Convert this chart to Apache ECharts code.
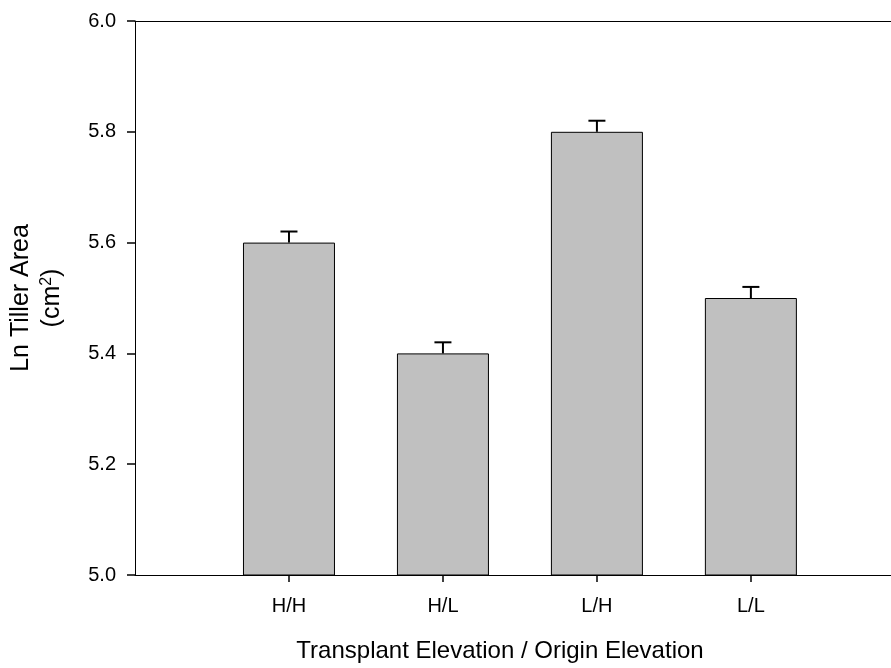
<!DOCTYPE html>
<html>
<head>
<meta charset="utf-8">
<script src="https://cdn.jsdelivr.net/npm/echarts@6/dist/echarts.min.js"></script>
<style>
  html, body { margin: 0; padding: 0; background: #fff; }
  #chart { width: 891px; height: 668px; }
</style>
</head>
<body>
<div id="chart"></div>
<script>
// Treatment groups: transplant elevation / origin elevation
const categories = ['H/H', 'H/L', 'L/H', 'L/L'];
// Mean ln tiller area (cm^2) and its standard error
const means = [5.6, 5.4, 5.8, 5.5];
const errors = [0.02, 0.02, 0.02, 0.02];
// Y axis range and tick step
const yMin = 5.0, yMax = 6.0, yStep = 0.2;

const FONT = '"Liberation Sans", Arial, Helvetica, sans-serif';
const positions = categories.map((c, i) => i + 1);
// The frame runs past the right edge of the page, so the visible x extent
// ends a little short of the next slot after the last group.
const xMax = 4.91;

const chart = echarts.init(document.getElementById('chart'), null, { renderer: 'canvas' });

chart.setOption({
  animation: false,
  backgroundColor: '#fff',
  grid: { left: 135, top: 21, bottom: 93, right: 0 },
  xAxis: [
    {
      type: 'value',
      min: 0, max: xMax,
      splitLine: { show: false },
      axisLine: { lineStyle: { color: '#000', width: 1 } },
      axisTick: { show: true, inside: false, length: 7, customValues: positions,
        lineStyle: { color: '#000', width: 1.5 } },
      axisLabel: {
        customValues: positions,
        margin: 21, fontFamily: FONT, fontSize: 20, color: '#000',
        formatter: v => categories[v - 1] || ''
      }
    },
    {
      // top edge of the frame
      type: 'value', position: 'top',
      min: 0, max: xMax,
      splitLine: { show: false },
      axisLine: { show: true, lineStyle: { color: '#000', width: 1 } },
      axisTick: { show: false },
      axisLabel: { show: false }
    }
  ],
  yAxis: {
    type: 'value',
    min: yMin, max: yMax, interval: yStep,
    splitLine: { show: false },
    axisLine: { show: true, lineStyle: { color: '#000', width: 1 } },
    axisTick: { show: true, inside: false, length: 8, lineStyle: { color: '#000', width: 1.5 } },
    axisLabel: {
      margin: 19, fontFamily: FONT, fontSize: 20, color: '#000',
      formatter: v => v.toFixed(1)
    }
  },
  graphic: [
    {
      type: 'text',
      x: 500, y: 651,
      style: {
        text: 'Transplant Elevation / Origin Elevation',
        font: '24px ' + FONT,
        fill: '#000',
        textAlign: 'center', textVerticalAlign: 'middle',
        align: 'center', verticalAlign: 'middle'
      }
    },
    {
      type: 'text',
      x: 37, y: 298,
      rotation: Math.PI / 2,
      style: {
        text: '{a|Ln Tiller Area}\n{a|(cm}{s|2}{a|)}',
        fill: '#000',
        textAlign: 'center', textVerticalAlign: 'middle',
        align: 'center', verticalAlign: 'middle',
        rich: {
          a: { fontFamily: FONT, fontSize: 25, lineHeight: 31, fill: '#000', color: '#000' },
          s: { fontFamily: FONT, fontSize: 16, lineHeight: 31, verticalAlign: 'top',
               padding: [2, 0, 0, 0], fill: '#000', color: '#000' }
        }
      }
    }
  ],
  series: [
    {
      type: 'bar',
      data: means.map((m, i) => [positions[i], m]),
      barWidth: 92,
      itemStyle: { color: '#c0c0c0', borderColor: '#000', borderWidth: 1 },
      clip: true,
      silent: true
    },
    {
      type: 'custom',
      data: means.map((m, i) => [positions[i], m, errors[i]]),
      silent: true,
      z: 3,
      renderItem: function (params, api) {
        const x = api.value(0), v = api.value(1), e = api.value(2);
        const base = api.coord([x, v]);
        const top = api.coord([x, v + e]);
        const half = 8.5;
        const style = { stroke: '#000', lineWidth: 2 };
        return {
          type: 'group',
          children: [
            { type: 'line', shape: { x1: base[0], y1: base[1], x2: top[0], y2: top[1] }, style: style },
            { type: 'line', shape: { x1: top[0] - half, y1: top[1], x2: top[0] + half, y2: top[1] }, style: style }
          ]
        };
      }
    }
  ]
});
</script>
</body>
</html>
